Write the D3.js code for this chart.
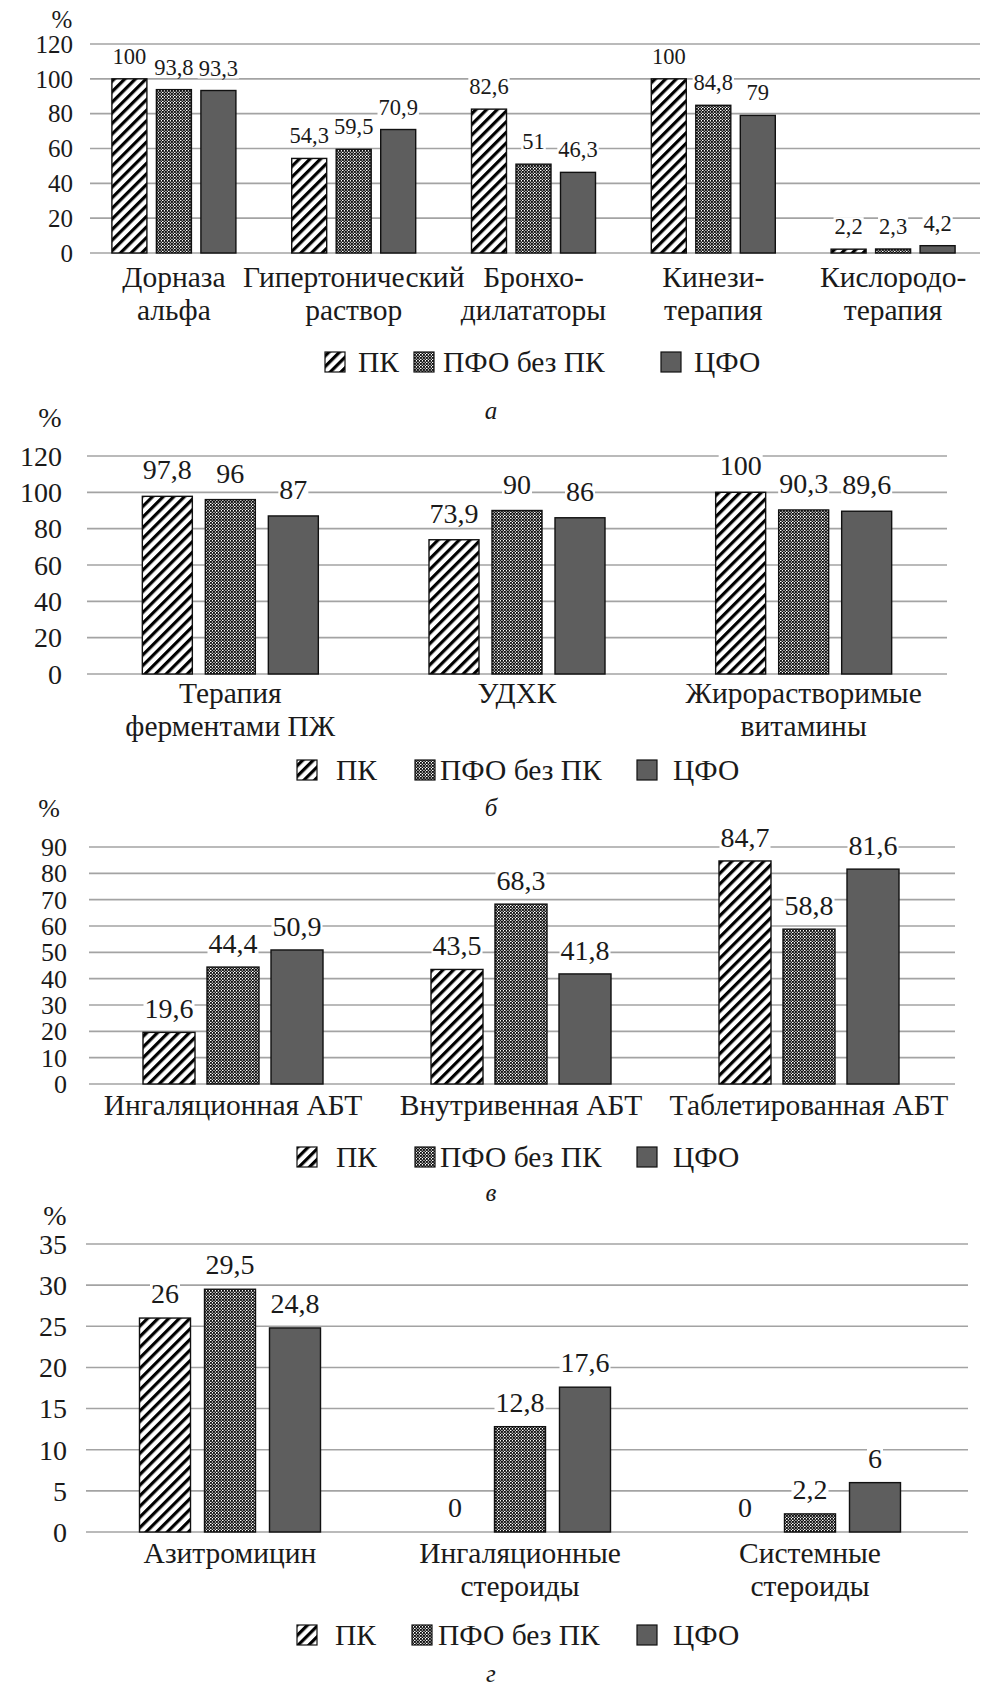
<!DOCTYPE html>
<html>
<head>
<meta charset="utf-8">
<script src="https://cdn.jsdelivr.net/npm/d3@7"></script>
<style>
  body { margin: 0; background: #fff; }
  svg text { font-family: "Liberation Serif", "DejaVu Serif", serif; fill: #1a1a1a; }
</style>
</head>
<body>
<div id="vis"></div>
<script>
// series names (same in all four panels)
const SERIES = ["ПК", "ПФО без ПК", "ЦФО"];

// panel а
const CATS_A = [["Дорназа", "альфа"], ["Гипертонический", "раствор"], ["Бронхо-", "дилататоры"], ["Кинези-", "терапия"], ["Кислородо-", "терапия"]];
const PK_A  = [100, 54.3, 82.6, 100, 2.2];
const PFO_A = [93.8, 59.5, 51, 84.8, 2.3];
const CFO_A = [93.3, 70.9, 46.3, 79, 4.2];
const TICKS_A = [0, 20, 40, 60, 80, 100, 120];

// panel б
const CATS_B = [["Терапия", "ферментами ПЖ"], ["УДХК"], ["Жирорастворимые", "витамины"]];
const PK_B  = [97.8, 73.9, 100];
const PFO_B = [96, 90, 90.3];
const CFO_B = [87, 86, 89.6];
const TICKS_B = [0, 20, 40, 60, 80, 100, 120];

// panel в
const CATS_C = [["Ингаляционная АБТ"], ["Внутривенная АБТ"], ["Таблетированная АБТ"]];
const PK_C  = [19.6, 43.5, 84.7];
const PFO_C = [44.4, 68.3, 58.8];
const CFO_C = [50.9, 41.8, 81.6];
const TICKS_C = [0, 10, 20, 30, 40, 50, 60, 70, 80, 90];

// panel г
const CATS_D = [["Азитромицин"], ["Ингаляционные", "стероиды"], ["Системные", "стероиды"]];
const PK_D  = [26, 0, 0];
const PFO_D = [29.5, 12.8, 2.2];
const CFO_D = [24.8, 17.6, 6];
const TICKS_D = [0, 5, 10, 15, 20, 25, 30, 35];

const CAPTIONS = ["а", "б", "в", "г"];

const W = 997, H = 1691;
const FONT = "'Liberation Serif', 'DejaVu Serif', serif";
const svg = d3.select("#vis").append("svg")
  .attr("width", W).attr("height", H)
  .attr("font-family", FONT);

// patterns
const defs = svg.append("defs");
const hatch = defs.append("pattern")
  .attr("id", "hatch")
  .attr("patternUnits", "userSpaceOnUse")
  .attr("width", 7.5).attr("height", 7.5)
  .attr("patternTransform", "rotate(45)");
hatch.append("rect").attr("width", 7.5).attr("height", 7.5).attr("fill", "#fff");
hatch.append("rect").attr("width", 3.2).attr("height", 7.5).attr("fill", "#000");

const dots = defs.append("pattern")
  .attr("id", "dots")
  .attr("patternUnits", "userSpaceOnUse")
  .attr("width", 6).attr("height", 6);
dots.append("rect").attr("width", 6).attr("height", 6).attr("fill", "#fff");
[[0,0],[3,0],[1.5,1.5],[4.5,1.5],[0,3],[3,3],[1.5,4.5],[4.5,4.5]].forEach(p => {
  dots.append("rect").attr("x", p[0]).attr("y", p[1])
    .attr("width", 1.9).attr("height", 1.9).attr("fill", "#111");
});

const FILLS = ["url(#hatch)", "url(#dots)", "#5e5e5e"];

// layout of each panel (pixels only)
const PANELS = [
  {cats: CATS_A, vals: [PK_A, PFO_A, CFO_A], ticks: TICKS_A,
   top: 44, bottom: 253, left: 90, right: 980, bandL: 84, bandR: 983,
   barW: 35, step: 44.5, tickX: 73, fs: 25, valFs: 22.5, catY: 287, gap: 15,
   legY: 362, legX: [325, 414, 661], legTX: [358, 443, 694], capY: 410, pct: [62, 19]},
  {cats: CATS_B, vals: [PK_B, PFO_B, CFO_B], ticks: TICKS_B,
   top: 456, bottom: 674, left: 87, right: 947, bandL: 87, bandR: 947,
   barW: 50, step: 63, tickX: 62, fs: 28, valFs: 28, catY: 703, gap: 17,
   legY: 770, legX: [297, 415, 637], legTX: [336, 440, 673], capY: 807, pct: [50, 417]},
  {cats: CATS_C, vals: [PK_C, PFO_C, CFO_C], ticks: TICKS_C,
   top: 847, bottom: 1084, left: 89, right: 955, bandL: 89, bandR: 953,
   barW: 52, step: 64, tickX: 67, fs: 26, valFs: 28, catY: 1115, gap: 14,
   legY: 1157, legX: [297, 415, 637], legTX: [336, 440, 673], capY: 1192, pct: [49, 808]},
  {cats: CATS_D, vals: [PK_D, PFO_D, CFO_D], ticks: TICKS_D,
   top: 1244, bottom: 1532, left: 86, right: 968, bandL: 85, bandR: 955,
   barW: 51, step: 65, tickX: 67, fs: 28, valFs: 28, catY: 1563, gap: 15,
   legY: 1635, legX: [297, 412, 637], legTX: [335, 438, 673], capY: 1673, pct: [55, 1215]}
];
const CAT_FS = 29.5, LEG_FS = 29.5;

const fmt = v => String(v).replace(".", ",");

PANELS.forEach((P, pi) => {
  const g = svg.append("g");
  const names = P.cats.map(c => c.join(" "));

  const Y = d3.scaleLinear()
    .domain([0, d3.max(P.ticks)])
    .range([P.bottom, P.top]);
  const X0 = d3.scaleBand()
    .domain(names)
    .range([P.bandL, P.bandR]);
  const X1 = d3.scaleBand()
    .domain(SERIES)
    .range([-1.5 * P.step, 1.5 * P.step])
    .paddingInner(1 - P.barW / P.step)
    .paddingOuter((1 - P.barW / P.step) / 2);

  // gridlines
  g.selectAll(".grid").data(P.ticks).enter().append("line")
    .attr("x1", P.left).attr("x2", P.right)
    .attr("y1", d => Y(d)).attr("y2", d => Y(d))
    .attr("stroke", "#a3a3a3").attr("stroke-width", 1.6);

  // tick labels
  g.selectAll(".tick").data(P.ticks).enter().append("text")
    .attr("x", P.tickX).attr("y", d => Y(d))
    .attr("dy", "0.35em")
    .attr("text-anchor", "end")
    .attr("font-size", P.fs)
    .text(d => d);

  g.append("text")
    .attr("x", P.pct[0]).attr("y", P.pct[1]).attr("dy", "0.35em")
    .attr("text-anchor", "middle").attr("font-size", P.fs)
    .text("%");

  // bars
  const rows = [];
  names.forEach((n, ci) => SERIES.forEach((s, si) => {
    rows.push({cat: n, s: s, si: si, v: P.vals[si][ci]});
  }));

  const cx = d => X0(d.cat) + X0.bandwidth() / 2 + X1(d.s);

  g.selectAll(".bar").data(rows.filter(d => d.v > 0)).enter().append("rect")
    .attr("x", d => cx(d))
    .attr("y", d => Y(d.v))
    .attr("width", X1.bandwidth())
    .attr("height", d => Y(0) - Y(d.v))
    .attr("fill", d => FILLS[d.si])
    .attr("stroke", "#111").attr("stroke-width", 1.4);

  // value labels with white boxes
  const lab = g.selectAll(".lab").data(rows).enter().append("g");
  lab.append("text")
    .attr("x", d => cx(d) + X1.bandwidth() / 2)
    .attr("y", d => Y(d.v) - P.gap)
    .attr("text-anchor", "middle")
    .attr("font-size", P.valFs)
    .text(d => fmt(d.v));
  lab.each(function() {
    const t = d3.select(this).select("text");
    const b = t.node().getBBox();
    d3.select(this).insert("rect", "text")
      .attr("x", b.x - 1).attr("y", b.y + 3)
      .attr("width", b.width + 2).attr("height", b.height - 5)
      .attr("fill", "#fff");
  });

  // category labels
  const cl = g.selectAll(".cat").data(P.cats).enter().append("text")
    .attr("x", (d, i) => X0(names[i]) + X0.bandwidth() / 2)
    .attr("y", P.catY)
    .attr("text-anchor", "middle")
    .attr("font-size", CAT_FS);
  cl.selectAll("tspan").data(d => d).enter().append("tspan")
    .attr("x", function() { return d3.select(this.parentNode).attr("x"); })
    .attr("dy", (d, i) => i === 0 ? 0 : 33)
    .text(d => d);

  // legend
  SERIES.forEach((s, si) => {
    g.append("rect")
      .attr("x", P.legX[si]).attr("y", P.legY - 10)
      .attr("width", 20).attr("height", 20)
      .attr("fill", FILLS[si])
      .attr("stroke", "#111").attr("stroke-width", 1.2);
    g.append("text")
      .attr("x", P.legTX[si]).attr("y", P.legY).attr("dy", "0.35em")
      .attr("font-size", LEG_FS)
      .text(s);
  });

  g.append("text")
    .attr("x", 491).attr("y", P.capY).attr("dy", "0.35em")
    .attr("text-anchor", "middle")
    .attr("font-size", 25).attr("font-style", "italic")
    .text(CAPTIONS[pi]);
});
</script>
</body>
</html>
